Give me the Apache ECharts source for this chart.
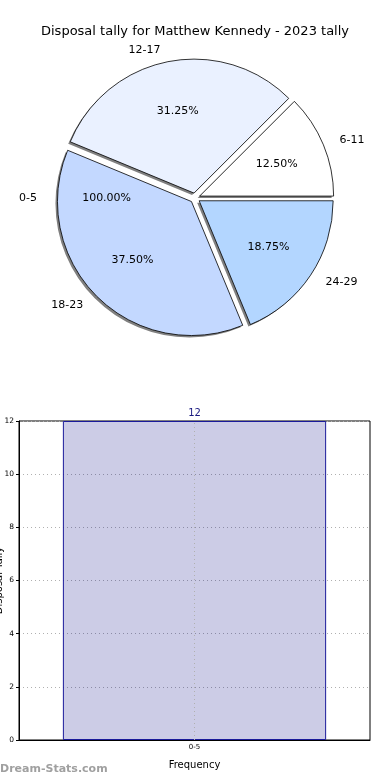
<!DOCTYPE html>
<html>
<head>
<meta charset="utf-8">
<script src="https://cdn.jsdelivr.net/npm/echarts@6/dist/echarts.min.js"></script>
<style>html,body{margin:0;padding:0;background:#fff}#c{width:390px;height:780px}</style>
</head>
<body>
<div id="c"></div>
<script>
const titleText = 'Disposal tally for Matthew Kennedy - 2023 tally';
const pieCategories = ['6-11', '12-17', '18-23', '24-29'];
const pieValues = [2, 5, 6, 3];
const pieColors = ['#ffffff', '#eaf1ff', '#c3d8ff', '#b3d6ff'];
const zeroCategory = '0-5';
const barCategories = ['0-5'];
const barValues = [12];
const yMin = 0, yMax = 12, yInterval = 2;

const FONT = 'DejaVu Sans';
const CX = 195, CY = 198, R = 134, OFF = 5;

const pctFmt = p => p.percent.toFixed(2) + '%';

const pieBase = {
  type: 'pie', center: [CX, CY], startAngle: 0, clockwise: false,
  selectedMode: 'multiple', selectedOffset: OFF, avoidLabelOverlap: false,
  emphasis: { disabled: true }, silent: true
};

const chart = echarts.init(document.getElementById('c'));
chart.setOption({
  animation: false,
  title: {
    text: titleText, left: 'center', top: 20,
    textStyle: { fontFamily: FONT, fontSize: 13, fontWeight: 'normal', color: '#000' }
  },
  grid: { left: 19, right: 20, top: 421, bottom: 40, show: true, borderColor: '#000', borderWidth: 1,
          backgroundColor: 'transparent', outerBoundsMode: 'none', containLabel: false },
  xAxis: {
    type: 'category', data: barCategories,
    name: 'Frequency', nameLocation: 'middle', nameGap: 20,
    nameTextStyle: { fontFamily: FONT, fontSize: 10, color: '#000' },
    axisLine: { lineStyle: { color: '#000' } },
    axisTick: { show: false },
    axisLabel: { fontFamily: FONT, fontSize: 7, color: '#000', margin: 4 },
    splitLine: { show: false }
  },
  yAxis: {
    type: 'value', min: yMin, max: yMax, interval: yInterval,
    name: 'Disposal Tally', nameLocation: 'middle', nameGap: 15, nameRotate: 90, nameMoveOverlap: false,
    nameTextStyle: { fontFamily: FONT, fontSize: 10, color: '#000' },
    axisLine: { show: true, lineStyle: { color: '#000' } },
    axisTick: { show: true, length: 3, lineStyle: { color: '#000' } },
    axisLabel: { fontFamily: FONT, fontSize: 7.5, color: '#000', margin: 5 },
    splitLine: { show: true, lineStyle: { color: '#b0b0b0', type: [1, 3], width: 1 } }
  },
  series: [
    Object.assign({}, pieBase, {
      center: [CX - 2, CY + 2], radius: [0, R], z: 1,
      label: { show: false }, labelLine: { show: false },
      itemStyle: { color: '#808080', borderWidth: 0 },
      data: pieCategories.map((c, i) => ({ name: c, value: pieValues[i], selected: true }))
    }),
    Object.assign({}, pieBase, {
      radius: [0, R], z: 2,
      label: { position: 'outside', formatter: '{b}', fontFamily: FONT, fontSize: 11, color: '#000' },
      labelLine: { show: false, length: 12, length2: 0 },
      itemStyle: { borderColor: '#000', borderWidth: 0.8 },
      data: pieCategories.map((c, i) => ({ name: c, value: pieValues[i], selected: true, itemStyle: { color: pieColors[i] } }))
    }),
    Object.assign({}, pieBase, {
      radius: [R * 0.2, R], z: 3,
      label: { position: 'inside', formatter: pctFmt, fontFamily: FONT, fontSize: 11, color: '#000' },
      labelLine: { show: false },
      itemStyle: { color: 'rgba(0,0,0,0)', borderWidth: 0 },
      data: pieCategories.map((c, i) => ({ name: c, value: pieValues[i], selected: true }))
    }),
    Object.assign({}, pieBase, {
      radius: [R * 0.2, R], z: 3,
      label: { position: 'inside', formatter: pctFmt, fontFamily: FONT, fontSize: 11, color: '#000' },
      labelLine: { show: false },
      itemStyle: { color: 'rgba(0,0,0,0)', borderWidth: 0 },
      data: [{ name: zeroCategory, value: 1, selected: true }]
    }),
    Object.assign({}, pieBase, {
      radius: [0, R], z: 3,
      label: { position: 'outside', formatter: '{b}', fontFamily: FONT, fontSize: 11, color: '#000' },
      labelLine: { show: false, length: 14, length2: 0 },
      itemStyle: { color: 'rgba(0,0,0,0)', borderWidth: 0 },
      data: [{ name: zeroCategory, value: 1, selected: true }]
    }),
    {
      type: 'bar', data: barValues, barWidth: '75%',
      itemStyle: { color: 'rgba(0,0,128,0.2)', borderColor: '#1a1a9a', borderWidth: 1 },
      label: { show: true, position: 'top', distance: 3, fontFamily: FONT, fontSize: 10, color: '#1a1a80' },
      emphasis: { disabled: true },
      markLine: {
        silent: true, symbol: 'none', label: { show: false },
        lineStyle: { color: '#b0b0b0', type: [1, 3], width: 1 },
        data: [{ xAxis: barCategories[0] }]
      }
    }
  ],
  graphic: [{
    type: 'text', left: 0, top: 764,
    style: { text: 'Dream-Stats.com', fontFamily: FONT, fontSize: 11, fontWeight: 'bold', fill: '#a0a0a0' }
  }]
});
</script>
</body>
</html>
